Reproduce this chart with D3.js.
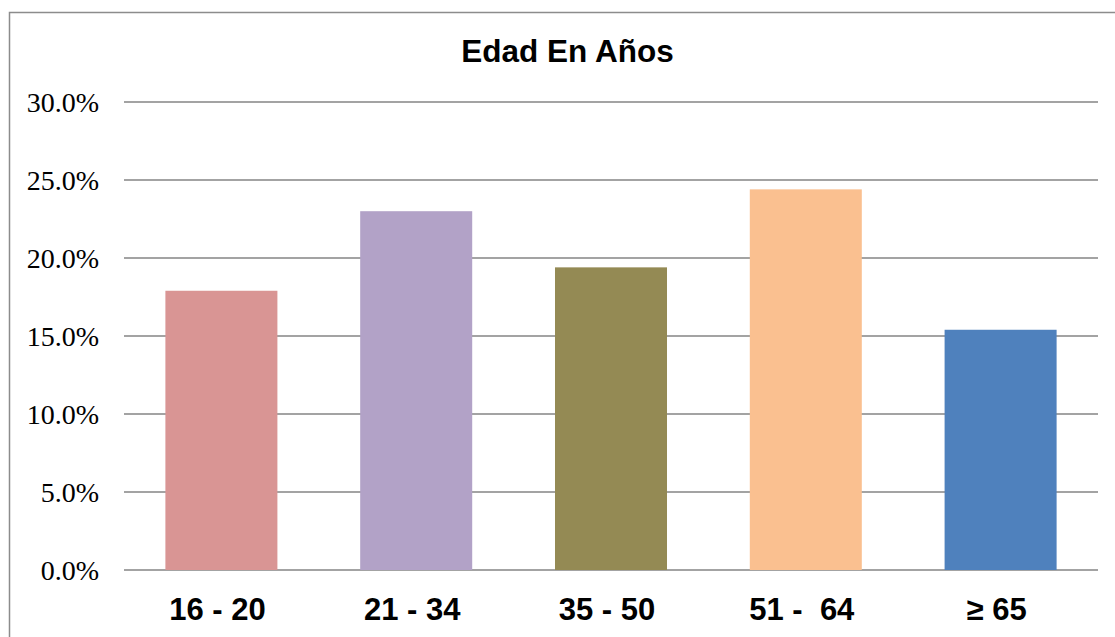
<!DOCTYPE html>
<html>
<head>
<meta charset="utf-8">
<script src="https://cdn.jsdelivr.net/npm/d3@7"></script>
<style>
  html, body { margin: 0; padding: 0; background: #fff; }
  svg { display: block; }
</style>
</head>
<body>
<svg id="chart" width="1115" height="637"></svg>
<script>
const categories = ["16 - 20", "21 - 34", "35 - 50", "51 -  64", "\u2265 65"];
const values = [17.9, 23.0, 19.4, 24.4, 15.4];
const colors = ["#D99594", "#B2A2C7", "#948A54", "#FAC090", "#4F81BD"];
const yTicks = [0, 5, 10, 15, 20, 25, 30];
const title = "Edad En Años";

(function () {
const svg = d3.select("#chart");
const W = 1115, H = 637;
const pLeft = 124, pRight = 1098, pTop = 102, pBottom = 570;

svg.append("rect").attr("x", 9.5).attr("y", 12.5).attr("width", W + 20).attr("height", H + 20)
  .attr("fill", "#fff").attr("stroke", "#8c8c8c").attr("stroke-width", 1.5);

const x = d3.scaleBand().domain(categories).range([pLeft, pRight]).paddingInner(0.425).paddingOuter(0.2125);
const y = d3.scaleLinear().domain([0, 30]).range([pBottom, pTop]);

// gridlines
svg.append("g").selectAll("line").data(yTicks).join("line")
  .attr("x1", pLeft).attr("x2", pRight)
  .attr("y1", d => y(d)).attr("y2", d => y(d))
  .attr("stroke", "#a3a3a3").attr("stroke-width", 2);

// bars
svg.append("g").selectAll("rect").data(values).join("rect")
  .attr("x", (d, i) => x(categories[i]))
  .attr("width", x.bandwidth())
  .attr("y", d => y(d))
  .attr("height", d => y(0) - y(d))
  .attr("fill", (d, i) => colors[i]);

// y axis labels
const yAxis = d3.axisLeft(y).tickValues(yTicks).tickFormat(d => d3.format(".1f")(d) + "%").tickSize(0).tickPadding(0);
const gy = svg.append("g").attr("transform", `translate(${99},0)`).call(yAxis);
gy.select(".domain").remove();
gy.selectAll("text").attr("font-family", "'Liberation Serif', 'DejaVu Serif', serif")
  .attr("font-size", 28).attr("fill", "#000").attr("dy", "0.33em");

// x axis labels
const xAxis = d3.axisBottom(x).tickSize(0).tickPadding(0);
const gx = svg.append("g").attr("transform", `translate(-4,${pBottom})`).call(xAxis);
gx.select(".domain").remove();
gx.selectAll("text").attr("font-family", "'Liberation Sans', Arial, sans-serif")
  .attr("font-size", 31).attr("font-weight", "bold").attr("fill", "#000")
  .attr("dy", null).attr("y", 50).style("white-space", "pre");

// title
svg.append("text").attr("x", 567.5).attr("y", 62).attr("text-anchor", "middle")
  .attr("font-family", "'Liberation Sans', Arial, sans-serif").attr("font-size", 31.5)
  .attr("font-weight", "bold").attr("fill", "#000").text(title);
})();
</script>
</body>
</html>
